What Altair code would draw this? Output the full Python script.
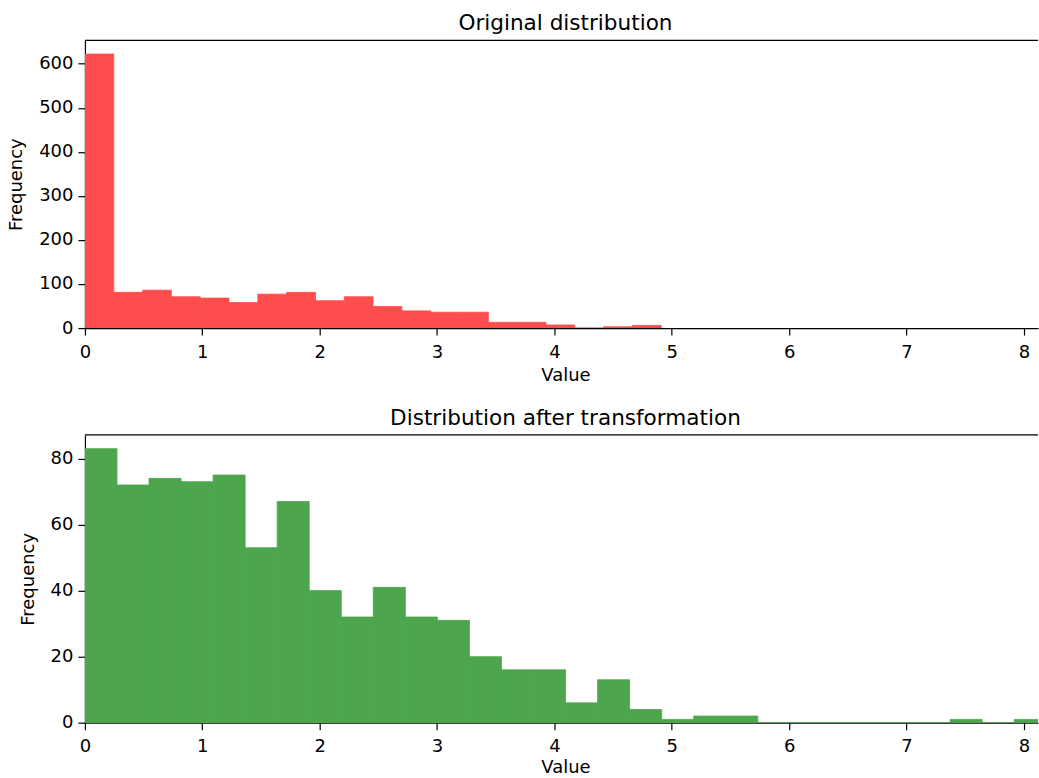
import altair as alt
import numpy as np
import pandas as pd

# ---- data ----
top_counts = [622, 81, 86, 71, 68, 58, 77, 81, 62, 71, 49, 39, 36, 36, 13, 13, 7, 0, 3, 6]
bottom_counts = [83, 72, 74, 73, 75, 53, 67, 40, 32, 41, 32, 31, 20, 16, 16,
                 6, 13, 4, 1, 2, 2, 0, 0, 0, 0, 0, 0, 1, 0, 1]
top_range = [0.0, 4.91]
bottom_range = [0.0, 8.19]
x_ticks = [0, 1, 2, 3, 4, 5, 6, 7, 8]
top_y_ticks = [0, 100, 200, 300, 400, 500, 600]
bottom_y_ticks = [0, 20, 40, 60, 80]
titles = ["Original distribution", "Distribution after transformation"]
colors = ["#FF4D4D", "#4DA64D"]

X_MAX = 8.12
W, H = 954, 288
FONT = "DejaVu Sans"


def panel(counts, rng, color, title, yticks, title_pad):
    n = len(counts)
    edges = np.linspace(rng[0], rng[1], n + 1)
    df = pd.DataFrame({"start": edges[:-1], "end": edges[1:], "count": counts,
                       "base": [0] * n})
    ymax = max(counts) * 1.05
    xscale = alt.Scale(domain=[0, X_MAX], nice=False, zero=False)
    yscale = alt.Scale(domain=[0, ymax], nice=False, zero=True)
    bars = alt.Chart(df).mark_rect(color=color, clip=True, stroke=color,
                                   strokeWidth=0.8).encode(
        x=alt.X("start:Q", scale=xscale,
                axis=alt.Axis(values=x_ticks, title="Value", titleX=481,
                              format="d", labelFlush=False,
                              titlePadding=title_pad)),
        x2="end:Q",
        y=alt.Y("count:Q", scale=yscale,
                axis=alt.Axis(values=yticks, title="Frequency", format="d",
                              labelFlush=False)),
        y2="base:Q",
    )
    spine = alt.Chart(pd.DataFrame({"a": [0]})).mark_rule(
        color="black", strokeWidth=1.2
    ).encode(x=alt.datum(0), x2=alt.datum(X_MAX), y=alt.datum(ymax))
    return alt.layer(bars, spine).properties(
        width=W, height=H,
        title=alt.TitleParams(title, fontSize=21.6, font=FONT, fontWeight="normal",
                              color="black", anchor="middle", offset=-12,
                              baseline="alphabetic", dx=4),
    )


top = panel(top_counts, top_range, colors[0], titles[0], top_y_ticks, 5)
bottom = panel(bottom_counts, bottom_range, colors[1], titles[1], bottom_y_ticks, 3)

chart = alt.vconcat(top, bottom, spacing=23).properties(
    padding={"left": 7, "top": 12, "right": 0, "bottom": 0},
    background="white",
).configure_view(stroke=None).configure_axis(
    labelFont=FONT, titleFont=FONT, labelFontSize=18, titleFontSize=18,
    titleFontWeight="normal", labelColor="black", titleColor="black",
    tickColor="black", domainColor="black", tickSize=7, tickWidth=1.2,
    domainWidth=1.2, grid=False,
).configure_axisX(labelPadding=8).configure_axisY(
    labelPadding=5, titlePadding=13)

chart.save("out.html", embed_options={"renderer": "svg", "actions": False})
